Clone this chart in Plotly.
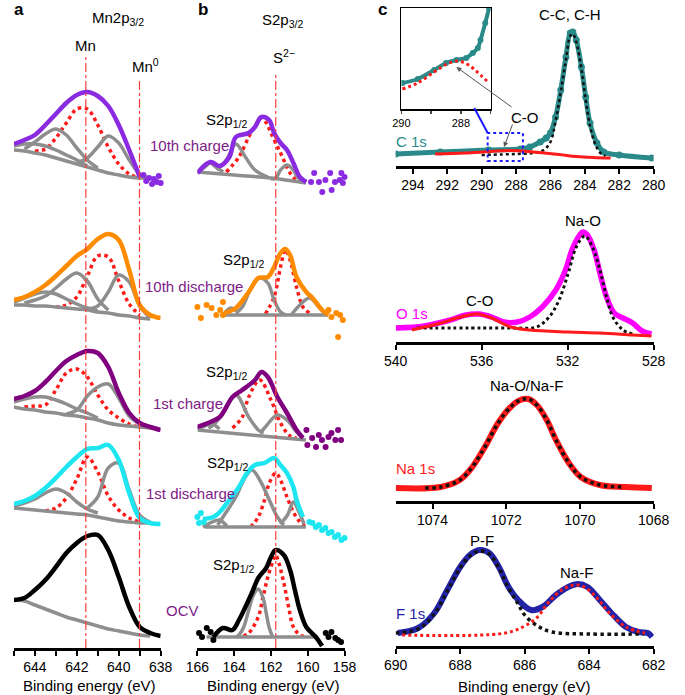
import plotly.graph_objects as go

W, H = 685, 695
FONT = "Liberation Sans, Arial, Helvetica, sans-serif"

# ---------------- colours ----------------
C_10C, C_10D, C_1C, C_1D, C_OCV = "#8A2BE2", "#FF8C00", "#800080", "#1EE6F0", "#000000"
C_GRAY, C_RED, C_LABEL = "#8E8E8E", "#FF1A1A", "#7E1B86"
C_TEAL, C_MAG, C_BLUE = "#2A8A8A", "#FF00FF", "#2323A8"

# ================= Panel a : Mn 2p3/2 (stacked intensities, a.u.) =================
MN_E = [645.0, 644.5, 644.0, 643.5, 643.0, 642.5, 642.0, 641.5, 641.0, 640.5, 640.0, 639.5, 639.0, 638.5, 638.0]
# (start energy on MN_E grid, intensities)
mn_10c_env = (645.0, [504, 508, 513, 523, 534, 545, 553, 556, 552, 542, 523, 498, 471])
mn_10c_bg = (645.0, [498, 497, 495, 493, 490, 487, 484, 481, 478, 475, 473, 471, 470, 470])
mn_10c_red = (644.0, [497, 499, 510, 525, 539, 539, 523, 501, 484, 474, 470])
mn_10c_gray = [(644.5, [499, 506, 514, 519, 513, 500, 488, 480]),
               (642.0, [485, 490, 501, 512, 505, 488, 474, 470]),
               (645.0, [502, 504, 504, 502, 498, 493, 488, 482])]
mn_10c_noise_E = [638.82, 638.69, 638.55, 638.41, 638.32, 638.18, 638.09, 638.0]
mn_10c_noise_I = [473, 467, 470, 464, 469, 466, 472, 465]

mn_10d_env = (645.0, [348, 351, 356, 363, 372, 382, 392, 399, 409, 414, 408, 378, 343, 333, 330])
mn_10d_bg = (645.0, [343, 343, 342, 342, 341, 340, 339, 338, 336, 335, 333, 332, 330, 329])
mn_10d_red = (643.0, [341, 343, 351, 372, 392, 391, 367, 344, 333])
mn_10d_gray = [(644.5, [345, 348, 352, 360, 369, 375, 367, 349, 338]),
               (641.5, [339, 342, 356, 373, 366, 342, 330]),
               (645.0, [346, 350, 354, 356, 354, 349, 344, 340, 337])]

mn_1c_env = (645.0, [249, 252, 257, 266, 277, 287, 293, 297, 295, 281, 255, 235, 225, 221, 218])
mn_1c_bg = (645.0, [241, 239, 238, 236, 235, 233, 232, 230, 228, 225, 223, 222, 221, 220])
mn_1c_red = (644.5, [241, 242, 243, 258, 275, 279, 271, 253, 238, 230, 224, 221])
mn_1c_gray = [(642.5, [234, 238, 252, 261, 264, 250, 232, 224]),
              (645.0, [246, 249, 251, 251, 248, 244, 239, 235, 230])]

mn_1d_env = (645.0, [144, 147, 152, 160, 170, 181, 191, 199, 200, 203, 188, 155, 130, 125, 124])
mn_1d_bg = (645.0, [140, 139, 138, 137, 136, 135, 134, 133, 131, 129, 127, 126, 125, 125])
mn_1d_red = (643.5, [137, 140, 150, 169, 191, 176, 152, 138, 130, 126])
mn_1d_gray = [(641.5, [140, 151, 180, 185, 158, 133, 126]),
              (645.0, [142, 145, 149, 155, 159, 155, 146, 139, 135])]

mn_ocv_env = (645.0, [48, 50, 58, 68, 81, 95, 105, 112, 113, 98, 71, 41, 21, 15, 12])
mn_ocv_bg = (645.0, [48, 47, 43, 39, 35, 31, 28, 25, 22, 19, 17, 15, 13, 12])

MN_LINE_E, MN_LINE_TOP = 641.57, 591
MN0_LINE_E, MN0_LINE_TOP = 639.01, 570

# ================= Panel b : S 2p (stacked intensities, a.u.) =================
s_10c_env = [(166, 475), (165.3, 486), (164.78, 482), (164.26, 491), (163.91, 511), (163.21, 515), (162.87, 521),
             (162.52, 531), (162.1, 528), (161.83, 515), (161.48, 505), (161.13, 498), (160.78, 485), (160.43, 471), (160.08, 466)]
s_10c_bg = [(166, 476), (164, 473), (162, 470), (160.1, 465)]
s_10c_red = [(164.43, 476), (163.74, 491), (163.21, 511), (162.87, 522), (162.52, 530), (162.25, 525), (162, 515),
             (161.48, 495), (160.96, 475), (160.6, 467)]
s_10c_gray = [[(164.95, 478), (164.43, 488), (163.91, 504), (163.39, 491), (162.87, 478), (162.17, 471)],
              [(166, 475), (165.6, 481), (165.3, 485), (165, 481), (164.6, 476)],
              [(162, 469), (161.74, 470), (161.48, 478), (161.13, 483), (160.78, 478), (160.6, 472), (160.26, 466)]]
s_10c_noise = [(159.82, 466), (159.65, 475), (159.39, 466), (159.21, 456), (159.04, 468), (158.78, 475), (158.7, 458),
               (158.52, 466), (158.26, 468), (158.17, 475), (158.09, 465), (158.0, 471)]

s_10d_env = [(164.52, 335), (163.91, 340), (163.21, 356), (162.69, 370), (162.17, 371), (161.83, 381), (161.48, 395),
             (161.22, 399), (160.96, 393), (160.61, 371), (160.08, 356), (159.74, 350), (159.22, 338), (158.87, 333)]
s_10d_bg = [(164.52, 333), (158.9, 333)]
s_10d_red = [(162.3, 334), (161.83, 351), (161.48, 381), (161.22, 398), (160.96, 388), (160.61, 361), (160.26, 341), (159.91, 335)]
s_10d_gray = [[(163.9, 335), (163.56, 341), (163.13, 358), (162.61, 370), (162.17, 365), (161.83, 348), (161.48, 336), (161.2, 333)],
              [(164.6, 333), (164.2, 340), (163.8, 336)],
              [(160.9, 333), (160.43, 343), (159.91, 350), (159.39, 341), (159.04, 334), (158.9, 333)]]
s_10d_noise = [(166.0, 341), (165.81, 330), (165.5, 343), (165.23, 340), (164.97, 333), (164.76, 338), (164.61, 346),
               (164.61, 333), (158.87, 338), (158.71, 331), (158.45, 335), (158.24, 333), (158.09, 328), (157.98, 338), (158.35, 311)]

s_1c_env = [(166, 221), (165.3, 226), (164.78, 231), (164.09, 251), (163.56, 258), (162.87, 268), (162.52, 276),
            (162.17, 271), (161.65, 251), (161.13, 235), (160.61, 218), (160.26, 210)]
s_1c_bg = [(166, 218), (160.1, 208)]
s_1c_red = [(164.09, 220), (163.56, 231), (163.21, 251), (162.61, 268), (162, 248), (161.48, 225), (160.96, 212), (160.6, 210)]
s_1c_gray = [[(165.4, 220), (165.13, 223), (164.61, 235), (163.91, 253), (163.21, 231), (162.69, 218), (162.4, 215)],
             [(162.6, 215), (162.35, 220), (161.65, 233), (161.13, 228), (160.61, 216), (160.26, 210)],
             [(166, 219), (165.6, 222), (165.2, 224), (164.8, 219)]]
s_1c_noise = [(160.07, 218), (160.02, 203), (159.76, 210), (159.55, 201), (159.40, 213), (159.23, 208), (159.03, 201),
              (158.87, 211), (158.71, 215), (158.50, 208), (158.35, 218), (158.19, 208), (157.98, 203)]

s_1d_env = [(165.7, 129), (165.13, 131), (164.78, 136), (164.26, 148), (163.74, 161), (163.3, 175), (162.87, 183),
            (162.35, 185), (161.83, 190), (161.48, 183), (161.13, 175), (160.78, 161), (160.61, 148), (160.26, 131)]
s_1d_bg = [(165.6, 121), (160.1, 121)]
s_1d_red = [(163.1, 121), (162.69, 131), (162.35, 148), (162.09, 165), (161.74, 175), (161.48, 168), (161.13, 151),
            (160.78, 136), (160.43, 126), (160.1, 121)]
s_1d_gray = [[(164.9, 123), (164.43, 136), (163.91, 151), (163.48, 168), (163.04, 178), (162.52, 165), (162.09, 148),
              (161.65, 131), (161.3, 123)],
             [(165.7, 121), (165.2, 126), (164.8, 128), (164.4, 122)],
             [(161.5, 124), (161.1, 133), (160.78, 146), (160.5, 137), (160.2, 124)]]
s_1d_noise = [(166.0, 131), (165.91, 125), (165.81, 135), (165.65, 126), (159.91, 126), (159.74, 125), (159.56, 121),
              (159.39, 123), (159.22, 118), (159.04, 120), (158.87, 115), (158.70, 116), (158.52, 111), (158.35, 113),
              (158.17, 108), (158.0, 110)]

s_ocv_env = [(165.13, 11), (164.61, 20), (164.09, 18), (163.74, 28), (163.39, 41), (163.04, 55), (162.69, 70), (162.26, 80),
             (162.0, 91), (161.74, 98), (161.3, 93), (160.96, 78), (160.7, 58), (160.43, 38), (160.08, 21), (159.56, 11), (159.22, 2)]
s_ocv_bg = [(165.5, 11), (159.5, 11)]
s_ocv_red = [(163.5, 12), (163.21, 15), (162.69, 31), (162.43, 51), (162.17, 71), (161.83, 90), (161.74, 93), (161.57, 85),
             (161.3, 65), (161.04, 41), (160.78, 21), (160.43, 13), (160.1, 11)]
s_ocv_gray = [[(163.9, 11), (163.74, 13), (163.48, 21), (163.21, 38), (162.95, 53), (162.69, 59), (162.43, 50),
               (162.26, 35), (162.09, 20), (161.91, 11)]]
s_ocv_noise = [(165.91, 15), (165.75, 11), (165.49, 20), (165.28, 16), (165.13, 8), (159.02, 15), (158.87, 11),
               (158.71, 16), (158.5, 10), (158.35, 8), (158.19, 6), (157.98, 5)]

S2_LINE_E, S2_LINE_TOP = 161.74, 575

# ================= Panel c =================
c1s_env = [(295, 12), (292.4, 14), (289.6, 16), (287.75, 17), (287.2, 19), (286.6, 24), (286.25, 28), (286, 33), (285.7, 49),
           (285.4, 76), (285.1, 109), (284.85, 133), (284.7, 134), (284.5, 126), (284.2, 99), (283.95, 69), (283.7, 43),
           (283.3, 23), (282.9, 14), (282, 11), (280.1, 8)]
c1s_cc = [(290, 11), (288, 12), (287, 13), (286.4, 16), (286, 24), (285.7, 45), (285.4, 74), (285.1, 106), (284.85, 130),
          (284.7, 132), (284.5, 124), (284.2, 97), (283.95, 66), (283.7, 40), (283.4, 22), (283.1, 13), (282.8, 10)]
c1s_co = [(292.7, 12), (291, 13), (289.5, 14.5), (288.3, 15.5), (287, 14), (285.5, 11.5), (284.5, 9.5), (283.5, 8.5), (282.5, 8)]
inset_env = [(289.97, 26), (289.45, 30), (288.9, 39), (288.5, 46), (288.15, 49), (287.82, 51), (287.6, 56), (287.43, 61),
             (287.34, 69), (287.18, 86), (287.05, 101)]
inset_co = [(289.97, 20), (289.45, 26), (288.9, 37), (288.47, 45), (288.15, 48), (287.86, 46), (287.6, 41), (287.34, 34), (287.05, 26)]
ZOOM_BOX = (289.65, 287.6, 5, 33)

o1s_env = [(540, 14), (538.66, 16), (537.46, 22), (536.74, 27), (536.12, 28), (535.54, 25), (534.96, 20), (534.34, 20),
           (533.76, 25), (533.18, 35), (532.55, 52), (532.1, 72), (531.8, 92), (531.5, 105), (531.3, 110), (531.08, 107),
           (530.77, 92), (530.5, 69), (530.19, 45), (529.83, 29), (529.43, 24), (528.98, 19), (528.54, 11), (528.1, 8)]
o1s_nao = [(539, 14), (536, 14), (534.5, 14), (533.44, 15), (532.86, 25), (532.4, 42), (531.97, 69), (531.6, 95), (531.2, 106),
           (530.85, 95), (530.5, 72), (530.19, 45), (529.9, 25), (529.43, 12), (528.98, 8)]
o1s_co = [(539.25, 12), (537.9, 19), (537, 25), (536.2, 28), (535.54, 24), (534.65, 15), (533.76, 12), (531.97, 10),
          (530.5, 9), (528.98, 7), (528.1, 6)]

na1s_env = [(1075, 13), (1073.78, 14), (1073.26, 21), (1072.92, 34), (1072.58, 54), (1072.22, 78), (1071.88, 94),
            (1071.62, 101), (1071.4, 102), (1071.17, 96), (1070.9, 81), (1070.65, 61), (1070.3, 38), (1069.98, 24),
            (1069.46, 16), (1068.76, 14), (1068.05, 13)]
na1s_fit = [(1074.2, 13), (1073.78, 14), (1073.26, 21), (1072.92, 34), (1072.58, 54), (1072.22, 78), (1071.88, 94),
            (1071.62, 101), (1071.4, 102), (1071.17, 96), (1070.9, 81), (1070.65, 61), (1070.3, 38), (1069.98, 24),
            (1069.46, 16), (1068.8, 14)]

f1s_env = [(689.94, 13), (689.3, 18), (688.8, 33), (688.4, 56), (688, 79), (687.7, 91), (687.4, 96), (687.1, 93), (686.8, 79),
           (686.5, 59), (686.2, 46), (685.8, 36), (685.45, 39), (685.03, 51), (684.65, 59), (684.35, 62), (684.05, 59),
           (683.67, 46), (683.25, 31), (682.86, 19), (682.47, 14), (682.18, 13), (682.05, 9)]
f1s_pf = [(690, 13), (689.3, 17), (688.8, 32), (688.4, 55), (688, 78), (687.7, 90), (687.4, 95), (687.1, 92), (686.8, 78),
          (686.5, 58), (686.2, 42), (686, 31), (685.6, 20), (685.15, 14), (684, 12), (682.3, 12)]
f1s_naf = [(689.8, 11), (686.6, 13), (686, 20), (685.6, 29), (685.25, 44), (684.85, 56), (684.45, 61), (684.15, 59),
           (683.76, 48), (683.37, 33), (682.86, 19), (682.27, 13)]

fig = go.Figure()


def grid(curve):
    start, vals = curve
    i0 = MN_E.index(start)
    return list(zip(MN_E[i0:i0 + len(vals)], vals))


def add_line(pts, ax, color, width, dash="solid", mode="lines", msize=6):
    xs, ys = zip(*pts)
    fig.add_trace(go.Scatter(
        x=list(xs), y=list(ys), xaxis=ax[0], yaxis=ax[1], mode=mode,
        line=dict(color=color, width=width, dash=dash, shape="spline", smoothing=1.0),
        marker=dict(color=color, size=msize), hoverinfo="skip", showlegend=False))


def add_dots(pts, ax, color, size=6):
    xs, ys = zip(*pts)
    fig.add_trace(go.Scatter(
        x=list(xs), y=list(ys), xaxis=ax[0], yaxis=ax[1], mode="markers",
        marker=dict(color=color, size=size), hoverinfo="skip", showlegend=False, cliponaxis=False))


AA = ("x", "y")
# ---- panel a spectra
for env, bg, red, grays, col in [
    (mn_10c_env, mn_10c_bg, mn_10c_red, mn_10c_gray, C_10C),
    (mn_10d_env, mn_10d_bg, mn_10d_red, mn_10d_gray, C_10D),
    (mn_1c_env, mn_1c_bg, mn_1c_red, mn_1c_gray, C_1C),
    (mn_1d_env, mn_1d_bg, mn_1d_red, mn_1d_gray, C_1D),
]:
    add_line(grid(red), AA, C_RED, 3.5, "dot")
    add_line(grid(bg), AA, C_GRAY, 3.5)
    for g in grays:
        add_line(grid(g), AA, C_GRAY, 3.5)
    add_line(grid(env), AA, col, 4.5)
add_dots(list(zip(mn_10c_noise_E, mn_10c_noise_I)), AA, C_10C, 6)
add_line(grid(mn_ocv_bg), AA, C_GRAY, 3.5)
add_line(grid(mn_ocv_env), AA, C_OCV, 4.5)

# ---- panel b spectra
AB = ("x2", "y2")
for env, bg, red, grays, noise, col in [
    (s_10c_env, s_10c_bg, s_10c_red, s_10c_gray, s_10c_noise, C_10C),
    (s_10d_env, s_10d_bg, s_10d_red, s_10d_gray, s_10d_noise, C_10D),
    (s_1c_env, s_1c_bg, s_1c_red, s_1c_gray, s_1c_noise, C_1C),
    (s_1d_env, s_1d_bg, s_1d_red, s_1d_gray, s_1d_noise, C_1D),
    (s_ocv_env, s_ocv_bg, s_ocv_red, s_ocv_gray, s_ocv_noise, C_OCV),
]:
    add_line(red, AB, C_RED, 3.5, "dot")
    add_line(bg, AB, C_GRAY, 3.5)
    for g in grays:
        add_line(g, AB, C_GRAY, 3.5)
    add_line(env, AB, col, 4.5)
    add_dots(noise, AB, col, 6)

# ---- panel c
add_line(c1s_env, ("x3", "y3"), C_TEAL, 5, mode="lines+markers", msize=7)
add_line(c1s_cc, ("x3", "y3"), "#111111", 2.5, "dot")
add_line(c1s_co, ("x3", "y3"), C_RED, 3)
add_line(inset_env, ("x7", "y7"), C_TEAL, 4, mode="lines+markers", msize=6)
add_line(inset_co, ("x7", "y7"), C_RED, 3, "dot")

add_line(o1s_env, ("x4", "y4"), C_MAG, 5.5)
add_line(o1s_nao, ("x4", "y4"), "#111111", 3, "dot")
add_line(o1s_co, ("x4", "y4"), C_RED, 3)

add_line(na1s_env, ("x5", "y5"), C_RED, 6)
add_line(na1s_fit, ("x5", "y5"), "#111111", 3.5, "dot")

add_line(f1s_env, ("x6", "y6"), C_BLUE, 6)
add_line(f1s_pf, ("x6", "y6"), "#111111", 3.5, "dot")
add_line(f1s_naf, ("x6", "y6"), C_RED, 3, "dot")


# ---------------- axes ----------------
def px(v):
    return v / W


def py(v):
    return 1 - v / H


def xax(domain, rng, tickvals, ticktext=None, size=14):
    return dict(domain=domain, range=rng, showline=True, linecolor="black", linewidth=2.5, ticks="outside",
                ticklen=5, tickwidth=2, tickcolor="black", tickvals=tickvals,
                ticktext=ticktext if ticktext else [str(t) for t in tickvals],
                tickfont=dict(family=FONT, size=size, color="black"), showgrid=False, zeroline=False,
                fixedrange=True)


def yax(domain, rng):
    return dict(domain=domain, range=rng, visible=False, fixedrange=True)


layout = dict(
    width=W, height=H, margin=dict(l=0, r=0, t=0, b=0),
    paper_bgcolor="white", plot_bgcolor="rgba(0,0,0,0)", showlegend=False,
    font=dict(family=FONT, size=15, color="black"),
    xaxis=xax([px(2), px(155)], [645, 638], [645, 644, 643, 642, 641, 640, 639, 638],
              ["", "644", "", "642", "", "640", "", "638"]),
    yaxis=yax([py(648), 1], [0, 648]),
    xaxis2=xax([px(193.3), px(346.7)], [166, 158], [166, 164, 162, 160, 158]),
    yaxis2=yax([py(648), 1], [0, 648]),
    xaxis3=xax([px(400), px(669)], [295, 280], [294, 292, 290, 288, 286, 284, 282, 280]),
    yaxis3=yax([py(166), py(20)], [0, 146]),
    xaxis4=xax([px(400), px(669)], [540, 528], [540, 536, 532, 528]),
    yaxis4=yax([py(342), py(200)], [0, 142]),
    xaxis5=xax([px(400), px(669)], [1075, 1068], [1074, 1072, 1070, 1068]),
    yaxis5=yax([py(501), py(370)], [0, 131]),
    xaxis6=xax([px(400), px(669)], [690, 682], [690, 688, 686, 684, 682]),
    yaxis6=yax([py(646), py(520)], [0, 126]),
    xaxis7=dict(domain=[px(406), px(499)], range=[290, 287], showline=True, mirror=True, linecolor="black",
                linewidth=1.5, ticks="outside", ticklen=3, tickwidth=1.5, tickvals=[290, 289, 288, 287],
                ticktext=["290", "", "288", ""], tickfont=dict(family=FONT, size=11, color="black"),
                showgrid=False, zeroline=False, anchor="y7"),
    yaxis7=dict(domain=[py(109), py(8)], range=[0, 101], showline=True, mirror=True, linecolor="black",
                linewidth=1.5, ticks="", showticklabels=False, showgrid=False, zeroline=False, anchor="x7"),
)
for i in range(2, 8):
    layout[f"xaxis{i}"]["anchor"] = f"y{i}"
    layout[f"yaxis{i}"]["anchor"] = f"x{i}"
layout["xaxis"]["anchor"] = "y"

shapes = [
    dict(type="line", xref="x", yref="y", x0=MN_LINE_E, x1=MN_LINE_E, y0=0, y1=MN_LINE_TOP,
         line=dict(color="#FF3B3B", width=1.2, dash="dashdot")),
    dict(type="line", xref="x", yref="y", x0=MN0_LINE_E, x1=MN0_LINE_E, y0=0, y1=MN0_LINE_TOP,
         line=dict(color="#FF3B3B", width=1.2, dash="dashdot")),
    dict(type="line", xref="x2", yref="y2", x0=S2_LINE_E, x1=S2_LINE_E, y0=0, y1=S2_LINE_TOP,
         line=dict(color="#FF3B3B", width=1.2, dash="dashdot")),
    dict(type="rect", xref="x3", yref="y3", x0=ZOOM_BOX[0], x1=ZOOM_BOX[1], y0=ZOOM_BOX[2], y1=ZOOM_BOX[3],
         line=dict(color="#1A1AFF", width=2, dash="dot")),
    dict(type="line", xref="paper", yref="paper", x0=px(482), y0=py(108), x1=px(496), y1=py(133),
         line=dict(color="#1A1AFF", width=2)),
]
layout["shapes"] = shapes


def txt(x, y, s, size=15, color="black", xanchor="center", bold=False):
    return dict(xref="paper", yref="paper", x=px(x), y=py(y), text=f"<b>{s}</b>" if bold else s,
                showarrow=False, xanchor=xanchor, yanchor="middle",
                font=dict(family=FONT, size=size, color=color))


ann = [
    txt(0, 9, "a", 17, bold=True, xanchor="left"),
    txt(192, 9, "b", 17, bold=True, xanchor="left"),
    txt(380, 9, "c", 17, bold=True, xanchor="left"),
    txt(111, 18, "Mn2p<sub>3/2</sub>"),
    txt(77, 45, "Mn"),
    txt(139, 66, "Mn<sup>0</sup>"),
    txt(282, 20, "S2p<sub>3/2</sub>"),
    txt(284, 57, "S<sup>2−</sup>"),
    txt(142, 145, "10th charge", color=C_LABEL, xanchor="left"),
    txt(137, 286, "10th discharge", color=C_LABEL, xanchor="left"),
    txt(145, 403, "1st charge", color=C_LABEL, xanchor="left"),
    txt(138, 493, "1st discharge", color=C_LABEL, xanchor="left"),
    txt(158, 610, "OCV", color=C_LABEL, xanchor="left"),
    txt(224, 120, "S2p<sub>1/2</sub>"),
    txt(241, 260, "S2p<sub>1/2</sub>"),
    txt(224, 373, "S2p<sub>1/2</sub>"),
    txt(225, 463, "S2p<sub>1/2</sub>"),
    txt(231, 565, "S2p<sub>1/2</sub>"),
    txt(81, 685, "Binding energy (eV)"),
    txt(273, 685, "Binding energy (eV)"),
    txt(534, 686, "Binding energy (eV)"),
    txt(582, 15, "C-C, C-H"),
    txt(398, 141, "C 1s", color=C_TEAL, xanchor="left"),
    txt(595, 220, "Na-O"),
    txt(488, 300, "C-O"),
    txt(398, 313, "O 1s", color=C_MAG, xanchor="left"),
    txt(536, 385, "Na-O/Na-F"),
    txt(398, 468, "Na 1s", color=C_RED, xanchor="left"),
    txt(490, 540, "P-F"),
    txt(589, 572, "Na-F"),
    txt(398, 613, "F 1s", color=C_BLUE, xanchor="left"),
    dict(xref="x7", yref="y7", x=288.15, y=42, text="C-O", showarrow=True, ax=69, ay=50,
         arrowhead=2, arrowsize=1, arrowwidth=1, arrowcolor="#555555",
         font=dict(family=FONT, size=15, color="black")),
    dict(xref="x3", yref="y3", x=288.7, y=19, text="", showarrow=True, ax=9, ay=-24,
         arrowhead=2, arrowsize=1, arrowwidth=1, arrowcolor="#555555"),
]
layout["annotations"] = ann

fig.update_layout(**layout)
fig.write_html("out.html", config={"displayModeBar": False, "staticPlot": True},
               post_script="document.body.style.margin='0px';document.body.style.padding='0px';")
